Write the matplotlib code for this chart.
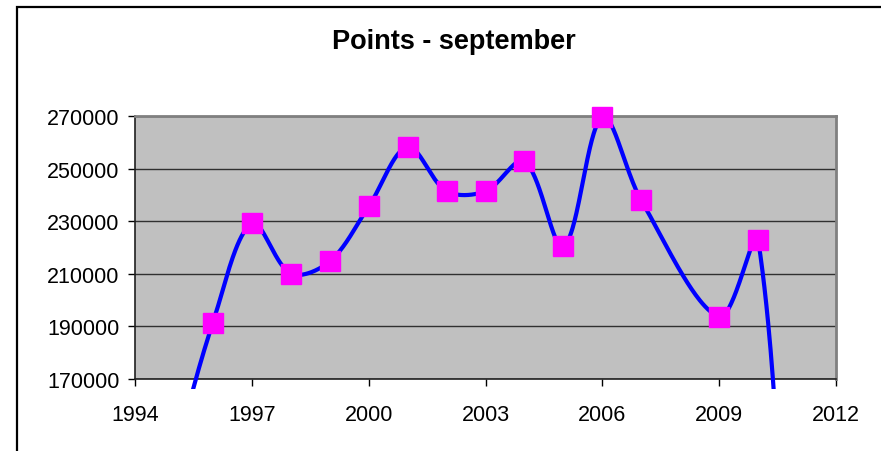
import numpy as np
import matplotlib
matplotlib.use("Agg")
import matplotlib.pyplot as plt
from matplotlib.transforms import Bbox, TransformedBbox
from matplotlib.patches import Rectangle

plt.rcParams['font.family'] = ['Liberation Sans', 'DejaVu Sans']

title = "Points - september"
years = [1995, 1996, 1997, 1998, 1999, 2000, 2001, 2002, 2003, 2004, 2005, 2006, 2007, 2009, 2010, 2011]
points = [140000, 191400, 229200, 210100, 214700, 235600, 258200, 241400, 241400, 252800, 220400, 269600, 237900, 193700, 223000, 0]
x_ticks = [1994, 1997, 2000, 2003, 2006, 2009, 2012]
y_ticks = [170000, 190000, 210000, 230000, 250000, 270000]

XS = 38.94          # px per year (for smoothing only)
YS = 26.2 / 10000   # px per unit value


def smooth(xs, ys, n=60):
    # Excel-like smoothing: Bezier with control points scaled by segment lengths (pixel space)
    P = np.column_stack([np.asarray(xs, float) * XS, np.asarray(ys, float) * YS])
    m = len(P)
    out_c = np.zeros_like(P)
    in_c = np.zeros_like(P)
    for i in range(m):
        pm = P[i - 1] if i > 0 else P[i]
        pp = P[i + 1] if i + 1 < m else P[i]
        T = pp - pm
        d1 = np.hypot(*(P[i] - pm))
        d2 = np.hypot(*(pp - P[i]))
        s = d1 + d2 if d1 + d2 > 0 else 1.0
        out_c[i] = P[i] + T * (d2 / s) / 3.0
        in_c[i] = P[i] - T * (d1 / s) / 3.0
    pts = [P[0]]
    t = np.linspace(0, 1, n)[1:, None]
    for i in range(m - 1):
        p0, c1, c2, p3 = P[i], out_c[i], in_c[i + 1], P[i + 1]
        seg = ((1 - t) ** 3) * p0 + 3 * ((1 - t) ** 2) * t * c1 + 3 * (1 - t) * t ** 2 * c2 + t ** 3 * p3
        pts.extend(seg)
    pts = np.array(pts)
    return pts[:, 0] / XS, pts[:, 1] / YS


fig = plt.figure(figsize=(8.81, 4.52), dpi=100)
fig.patch.set_facecolor('white')
fig.patches.append(Rectangle((16.5 / 881, -0.1), 1.2, 1 - 7.5 / 452 + 0.1, transform=fig.transFigure,
                             fill=False, edgecolor='black', lw=1.6, zorder=0))

ax = fig.add_axes([135 / 881, 1 - 380 / 452, (836 - 135) / 881, (380 - 117) / 452])
ax.set_facecolor('#C0C0C0')
ax.set_xlim(1994, 2012)
ax.set_ylim(170000, 270000)

ax.set_xticks(x_ticks)
ax.set_xticklabels([str(v) for v in x_ticks])
ax.set_yticks(y_ticks)
ax.set_yticklabels([str(v) for v in y_ticks])
ax.tick_params(axis='both', direction='out', length=5, width=1, color='black', labelsize=15.5)
ax.tick_params(axis='x', pad=13)
ax.tick_params(axis='y', pad=6)

ax.grid(axis='y', color='#303030', lw=1.0)
ax.set_axisbelow(True)
for s in ['top', 'right']:
    ax.spines[s].set_color('#808080')
    ax.spines[s].set_linewidth(2)
for s in ['left', 'bottom']:
    ax.spines[s].set_color('#202020')
    ax.spines[s].set_linewidth(1.2)

sx, sy = smooth(years, points)
line, = ax.plot(sx, sy, color='#0000FF', lw=3.0, zorder=3, solid_joinstyle='round')
line.set_clip_path(None)
line.set_clip_box(TransformedBbox(Bbox.from_extents(1994, 166200, 2012, 290000), ax.transData))

yr = np.array(years)
pt = np.array(points)
mask = (pt >= 170000) & (pt <= 270000)
ax.plot(yr[mask], pt[mask], linestyle='none', marker='s', markersize=14.5,
        color='#FF00FF', mec='#FF00FF', zorder=4, clip_on=False)

fig.text(453.5 / 881, 1 - 49 / 452, title, ha='center', va='baseline', fontsize=19.5, fontweight='bold')

fig.savefig('out.png', dpi=100)
